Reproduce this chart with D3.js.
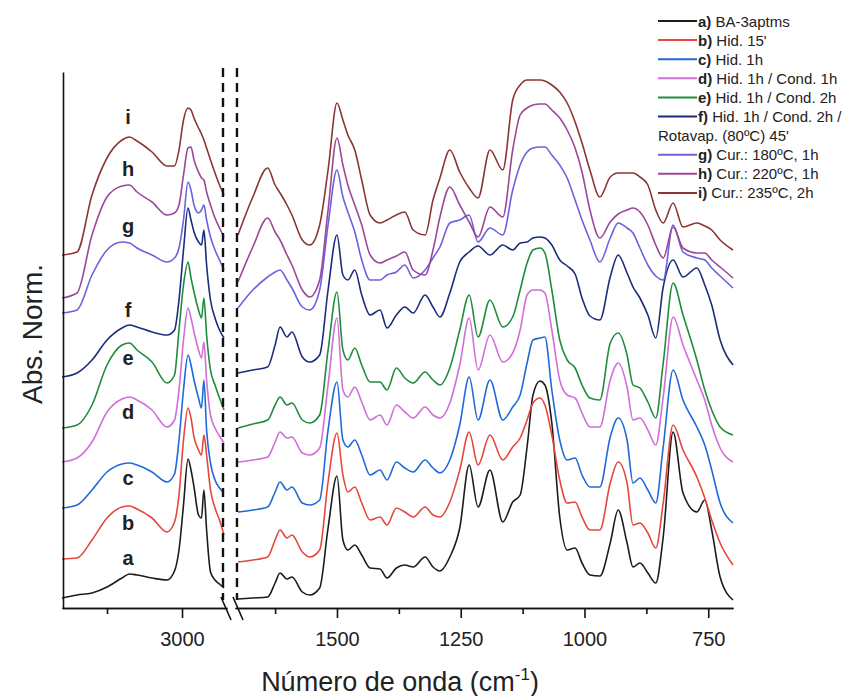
<!DOCTYPE html>
<html>
<head>
<meta charset="utf-8">
<script src="https://cdn.jsdelivr.net/npm/d3@7"></script>
<style>
body { margin: 0; background: #fff; }
svg { font-family: "Liberation Sans", Arial, sans-serif; }
</style>
</head>
<body>
<script>
// wavenumbers (cm-1) for the two parts of the broken axis
var wnLeft = [3400, 3350, 3300, 3250, 3200, 3175, 3150, 3100, 3050, 3025, 3010, 2995, 2980, 2970, 2960, 2945, 2935, 2927, 2918, 2905, 2890, 2875, 2860];
var wnRight = [1700, 1670, 1640, 1625, 1615, 1601, 1591, 1570, 1555, 1535, 1518, 1500, 1488, 1478, 1464, 1450, 1433, 1413, 1399, 1380,
  1363, 1346, 1322, 1306, 1292, 1272, 1252, 1233, 1215, 1191, 1165, 1145, 1130, 1116, 1104, 1090, 1080, 1066, 1050, 1035,
  1019, 1005, 989, 969, 948, 932, 914, 902, 888, 872, 856, 841, 821, 801, 773, 757, 743, 726, 700];

// normalized absorbance (stacked, arbitrary units)
var leftA = [1.0, 1.3, 1.5, 2.1, 3.0, 3.4, 3.3, 3.0, 2.8, 3.7, 5.8, 10.3, 14.9, 13.8, 12.1, 9.3, 9.0, 11.8, 7.8, 3.6, 2.8, 2.4, 2.0];
var leftB = [4.9, 5.0, 6.8, 9.0, 10.1, 10.2, 9.9, 9.0, 7.6, 8.6, 11.3, 16.8, 20.0, 19.0, 17.1, 15.8, 15.3, 17.3, 15.3, 11.8, 10.0, 8.8, 7.3];
var leftC = [10.0, 10.3, 11.8, 13.6, 14.4, 14.5, 14.3, 13.6, 12.6, 13.4, 16.8, 21.8, 25.3, 24.3, 22.8, 21.0, 20.0, 22.8, 17.8, 14.5, 12.8, 12.0, 11.5];
var leftD = [14.6, 15.0, 16.6, 19.6, 20.9, 21.1, 20.8, 19.8, 18.1, 18.8, 21.8, 26.8, 30.0, 29.0, 27.6, 25.8, 25.0, 26.6, 22.8, 19.3, 18.0, 17.2, 16.5];
var leftE = [18.0, 18.3, 20.3, 24.3, 26.3, 26.5, 25.8, 24.6, 22.5, 23.3, 27.8, 32.3, 34.6, 33.0, 31.6, 29.8, 29.0, 31.0, 27.3, 23.8, 22.3, 21.0, 19.8];
var leftF = [23.1, 23.5, 24.8, 26.8, 28.0, 28.3, 28.1, 27.6, 27.3, 27.8, 30.8, 35.8, 40.0, 38.8, 37.6, 36.6, 36.3, 37.8, 34.3, 30.8, 29.0, 27.8, 27.0];
var leftG = [29.5, 29.8, 33.3, 35.8, 36.6, 36.5, 36.0, 35.3, 34.6, 35.0, 36.0, 38.8, 42.6, 41.8, 40.3, 39.5, 39.8, 40.3, 38.8, 37.1, 35.8, 34.8, 33.8];
var leftH = [31.0, 31.5, 37.3, 41.1, 42.2, 42.3, 41.6, 40.6, 39.3, 39.5, 40.3, 43.3, 46.0, 46.1, 44.8, 43.6, 43.0, 42.8, 41.6, 40.3, 39.0, 38.0, 37.1];
var leftI = [35.3, 35.6, 41.3, 45.0, 46.8, 47.1, 46.7, 45.6, 44.2, 44.2, 45.8, 48.8, 50.0, 49.8, 49.0, 48.0, 47.4, 46.8, 46.0, 44.8, 43.5, 42.3, 41.3];

var rightA = [0.9, 1.0, 1.1, 2.5, 3.5, 2.9, 3.1, 1.6, 1.3, 2.0, 8.0, 13.2, 6.8, 5.8, 6.3, 5.3, 4.0, 3.9, 3.0, 4.0,
  4.3, 4.1, 5.1, 4.1, 3.7, 5.1, 8.0, 14.3, 10.1, 13.8, 8.6, 10.6, 11.3, 16.1, 21.3, 22.7, 22.3, 18.5, 9.1, 5.8,
  6.0, 4.5, 3.3, 3.2, 6.5, 9.8, 6.5, 4.1, 4.5, 3.5, 2.5, 7.1, 17.6, 11.5, 9.6, 10.8, 7.8, 3.1, 0.8];
var rightB = [4.6, 4.8, 5.1, 6.8, 7.8, 7.0, 7.3, 5.6, 5.1, 5.8, 12.6, 17.5, 13.3, 11.6, 12.1, 10.5, 8.8, 9.1, 8.3, 10.0,
  9.6, 9.1, 10.1, 9.3, 9.1, 10.6, 13.8, 17.6, 14.3, 17.3, 14.8, 16.1, 17.0, 18.8, 20.5, 21.0, 20.3, 17.3, 12.8, 10.5,
  10.6, 9.1, 7.8, 7.8, 12.5, 14.6, 12.5, 8.3, 8.5, 7.5, 6.0, 10.5, 18.3, 15.8, 13.1, 11.0, 8.8, 6.5, 4.3];
var rightC = [9.6, 9.8, 10.1, 11.6, 12.6, 11.8, 12.1, 10.5, 10.3, 10.8, 17.8, 22.6, 16.8, 16.1, 16.8, 15.3, 13.3, 13.8, 12.8, 14.6,
  14.0, 13.6, 14.8, 14.0, 13.5, 14.8, 18.3, 23.1, 18.8, 22.8, 18.8, 20.1, 21.3, 24.5, 26.8, 27.0, 27.1, 21.8, 16.8, 14.8,
  15.0, 13.3, 12.1, 12.1, 17.1, 19.0, 16.8, 12.5, 13.0, 11.8, 10.5, 16.1, 23.8, 20.8, 18.1, 16.3, 13.8, 10.5, 8.5];
var rightD = [14.6, 14.8, 15.1, 16.6, 17.6, 17.0, 17.1, 15.5, 15.3, 16.0, 22.3, 29.0, 21.8, 21.1, 22.1, 20.6, 18.8, 19.3, 18.3, 20.3,
  19.6, 19.0, 20.1, 19.3, 19.0, 20.5, 24.3, 29.0, 23.8, 27.3, 24.6, 25.5, 27.8, 31.3, 31.8, 31.8, 31.5, 27.8, 22.8, 21.3,
  21.0, 19.5, 18.1, 18.1, 22.8, 24.5, 22.1, 18.8, 19.0, 17.8, 16.3, 21.1, 29.1, 26.3, 22.8, 20.8, 18.3, 16.0, 14.6];
var rightE = [18.0, 18.4, 18.8, 20.3, 21.1, 20.3, 20.5, 18.8, 18.5, 19.3, 25.8, 31.6, 25.8, 24.8, 26.0, 24.3, 22.6, 22.6, 21.8, 24.0,
  23.0, 22.5, 23.6, 22.8, 22.3, 24.0, 27.8, 31.3, 27.1, 30.8, 28.1, 29.1, 31.8, 34.5, 35.8, 36.0, 35.5, 31.8, 26.8, 24.8,
  24.0, 22.3, 21.0, 20.8, 26.5, 27.5, 25.3, 22.3, 22.0, 20.6, 19.0, 24.5, 32.5, 29.3, 24.8, 21.8, 19.8, 18.1, 17.3];
var rightF = [23.5, 23.8, 24.1, 26.3, 28.1, 27.1, 27.6, 25.1, 24.6, 25.3, 31.8, 37.3, 33.3, 32.8, 33.8, 31.3, 29.3, 29.8, 28.0, 29.3,
  30.1, 29.5, 31.3, 30.1, 29.1, 31.5, 34.6, 35.6, 36.2, 35.3, 36.3, 35.8, 36.5, 36.6, 37.0, 37.1, 37.0, 36.3, 34.8, 34.2,
  33.4, 31.0, 29.2, 28.8, 33.1, 35.3, 33.5, 32.1, 31.0, 29.3, 27.0, 32.1, 34.8, 33.1, 34.0, 32.3, 30.3, 26.8, 24.3];
var rightG = [30.0, 31.8, 33.1, 33.6, 33.8, 32.8, 32.0, 30.1, 29.8, 31.8, 38.3, 43.8, 41.1, 39.6, 37.6, 34.8, 32.8, 32.8, 33.3, 33.6,
  34.3, 33.0, 33.8, 35.0, 36.1, 38.5, 38.8, 39.3, 36.6, 38.0, 37.3, 41.8, 44.3, 45.6, 46.0, 46.1, 46.1, 45.3, 44.3, 43.0,
  40.8, 38.8, 36.8, 34.6, 37.0, 38.5, 38.0, 37.5, 36.0, 34.3, 33.2, 32.8, 38.3, 35.6, 35.0, 34.8, 34.0, 33.2, 32.0];
var rightH = [32.6, 36.1, 39.0, 37.6, 36.8, 35.3, 34.3, 31.8, 31.1, 32.8, 39.8, 47.0, 44.3, 42.3, 40.3, 38.3, 35.3, 34.5, 34.8, 35.2,
  35.6, 33.8, 33.3, 35.8, 39.1, 42.1, 40.3, 38.6, 37.1, 40.1, 39.1, 45.8, 49.3, 50.0, 50.3, 50.4, 50.4, 49.8, 49.0, 47.8,
  46.0, 43.6, 39.8, 37.0, 38.6, 39.4, 39.8, 40.0, 39.6, 38.3, 36.3, 35.0, 38.1, 36.0, 35.5, 35.5, 34.8, 34.1, 33.0];
var rightI = [37.3, 41.1, 44.0, 42.3, 41.5, 40.3, 39.3, 36.8, 36.3, 38.3, 43.8, 50.5, 48.8, 47.3, 45.8, 42.8, 39.3, 38.5, 38.8, 39.3,
  39.6, 37.8, 37.3, 40.8, 43.0, 45.8, 43.6, 42.0, 41.0, 45.8, 43.8, 50.8, 52.3, 52.8, 52.8, 52.8, 52.7, 52.3, 51.6, 50.5,
  48.6, 46.5, 43.8, 41.1, 43.1, 43.5, 43.5, 43.5, 43.1, 42.3, 39.8, 38.5, 40.5, 38.1, 38.5, 38.2, 37.8, 36.8, 35.8];

var seriesKeys = ['a', 'b', 'c', 'd', 'e', 'f', 'g', 'h', 'i'];
var colors = ['#1c1c1c', '#e5473f', '#1f6ad8', '#d06fd8', '#1e8c3c', '#1b2c7c', '#6c62dd', '#9b4797', '#8c3535'];
var legendText = [' BA-3aptms', " Hid. 15'", ' Hid. 1h', ' Hid. 1h / Cond. 1h', ' Hid. 1h / Cond. 2h',
  ' Hid. 1h / Cond. 2h /', ' Cur.: 180\u00baC, 1h', ' Cur.: 220\u00baC, 1h', ' Cur.: 235\u00baC, 2h'];
var legendExtra = "Rotavap. (80\u00baC) 45'";
var legendRow = [0, 1, 2, 3, 4, 5, 7, 8, 9];

// letter tags next to each trace
var tagWn = 3180;
var tagVals = [4.3, 7.8, 12.3, 18.9, 24.3, 29.1, 37.5, 43.2, 48.4];

var majorLeft = [3000], minorLeft = [3250];
var majorRight = [1500, 1250, 1000, 750], minorRight = [1625, 1375, 1125, 875];

var leftVals = [leftA, leftB, leftC, leftD, leftE, leftF, leftG, leftH, leftI];
var rightVals = [rightA, rightB, rightC, rightD, rightE, rightF, rightG, rightH, rightI];

var svg = d3.select('body').append('svg')
  .attr('width', 848)
  .attr('height', 696);

var xL = d3.scaleLinear().domain([3400, 2850]).range([62, 227]);
var xR = d3.scaleLinear().domain([1706, 700]).range([235, 733]);
var y = d3.scaleLinear().domain([0, 53.6]).range([608, 72]);

var series = seriesKeys.map(function(k, i) {
  return {
    key: k,
    color: colors[i],
    left: d3.zip(wnLeft, leftVals[i]),
    right: d3.zip(wnRight, rightVals[i])
  };
});

var lineFor = function(xs) {
  return d3.line()
    .x(function(d) { return xs(d[0]); })
    .y(function(d) { return y(d[1]); })
    .curve(d3.curveMonotoneX);
};

var plot = svg.append('g');
plot.selectAll('.lt')
  .data(series)
  .enter()
  .append('path')
  .attr('class', 'lt')
  .attr('d', function(d) { return lineFor(xL)(d.left); })
  .attr('fill', 'none')
  .attr('stroke', function(d) { return d.color; })
  .attr('stroke-width', 1.6);
plot.selectAll('.rt')
  .data(series)
  .enter()
  .append('path')
  .attr('class', 'rt')
  .attr('d', function(d) { return lineFor(xR)(d.right); })
  .attr('fill', 'none')
  .attr('stroke', function(d) { return d.color; })
  .attr('stroke-width', 1.6);

// break markers: dashed verticals
var breaks = [xL(2860) - 1, xR(1700) - 1];
svg.selectAll('.brk')
  .data(breaks)
  .enter()
  .append('line')
  .attr('x1', function(d) { return d; })
  .attr('x2', function(d) { return d; })
  .attr('y1', 68)
  .attr('y2', 600)
  .attr('stroke', '#111')
  .attr('stroke-width', 2.4)
  .attr('stroke-dasharray', '9,6');

// axes
var fmt = d3.format('d');
var styleAxis = function(g) {
  g.selectAll('path, line').attr('stroke', '#111').attr('stroke-width', 1.6);
  g.selectAll('text').attr('font-size', 20).attr('fill', '#222')
    .attr('font-family', '"Liberation Sans", Arial, sans-serif');
};

svg.append('g')
  .attr('transform', 'translate(63,0)')
  .call(d3.axisLeft(y).tickValues([]).tickSizeOuter(0))
  .call(styleAxis);

svg.append('g')
  .attr('transform', 'translate(0,608)')
  .call(d3.axisBottom(xL).tickValues(majorLeft).tickFormat(fmt).tickSize(10).tickPadding(14).tickSizeOuter(0))
  .call(styleAxis);
svg.append('g')
  .attr('transform', 'translate(0,608)')
  .call(d3.axisBottom(xL).tickValues(minorLeft).tickSize(6).tickFormat('').tickSizeOuter(0))
  .call(styleAxis);
svg.append('g')
  .attr('transform', 'translate(0,608)')
  .call(d3.axisBottom(xR).tickValues(majorRight).tickFormat(fmt).tickSize(10).tickPadding(14).tickSizeOuter(0))
  .call(styleAxis);
svg.append('g')
  .attr('transform', 'translate(0,608)')
  .call(d3.axisBottom(xR).tickValues(minorRight).tickSize(6).tickFormat('').tickSizeOuter(0))
  .call(styleAxis);

// slanted break marks on the axis
[xL(2850) - 6, xR(1706) - 2].forEach(function(x0) {
  svg.append('line')
    .attr('x1', x0).attr('y1', 597)
    .attr('x2', x0 + 10).attr('y2', 620)
    .attr('stroke', '#111').attr('stroke-width', 1.6);
});

// trace tags
svg.selectAll('.tag')
  .data(series)
  .enter()
  .append('text')
  .attr('x', xL(tagWn))
  .attr('y', function(d, i) { return y(tagVals[i]); })
  .attr('text-anchor', 'middle')
  .attr('font-size', 20)
  .attr('font-weight', 'bold')
  .attr('fill', '#222')
  .text(function(d) { return d.key; });

// axis titles
svg.append('text')
  .attr('transform', 'translate(42,334) rotate(-90)')
  .attr('text-anchor', 'middle')
  .attr('font-size', 28)
  .attr('fill', '#222')
  .text('Abs. Norm.');

var xt = svg.append('text')
  .attr('x', 400)
  .attr('y', 691)
  .attr('text-anchor', 'middle')
  .attr('font-size', 27)
  .attr('fill', '#222');
xt.append('tspan').text('N\u00famero de onda (cm');
xt.append('tspan').attr('font-size', 17).attr('dy', -11).text('-1');
xt.append('tspan').attr('dy', 11).text(')');

// legend
var leg = svg.append('g').attr('font-size', 15).attr('fill', '#222');
series.forEach(function(d, i) {
  var yy = 21 + legendRow[i] * 19.1;
  leg.append('line')
    .attr('x1', 658).attr('x2', 697)
    .attr('y1', yy).attr('y2', yy)
    .attr('stroke', d.color).attr('stroke-width', 2);
  var t = leg.append('text').attr('x', 698).attr('y', yy + 5.5);
  t.append('tspan').attr('font-weight', 'bold').text(d.key + ')');
  t.append('tspan').text(legendText[i]);
});
leg.append('text')
  .attr('x', 658)
  .attr('y', 21 + 6 * 19.1 + 5.5)
  .text(legendExtra);
</script>
</body>
</html>
